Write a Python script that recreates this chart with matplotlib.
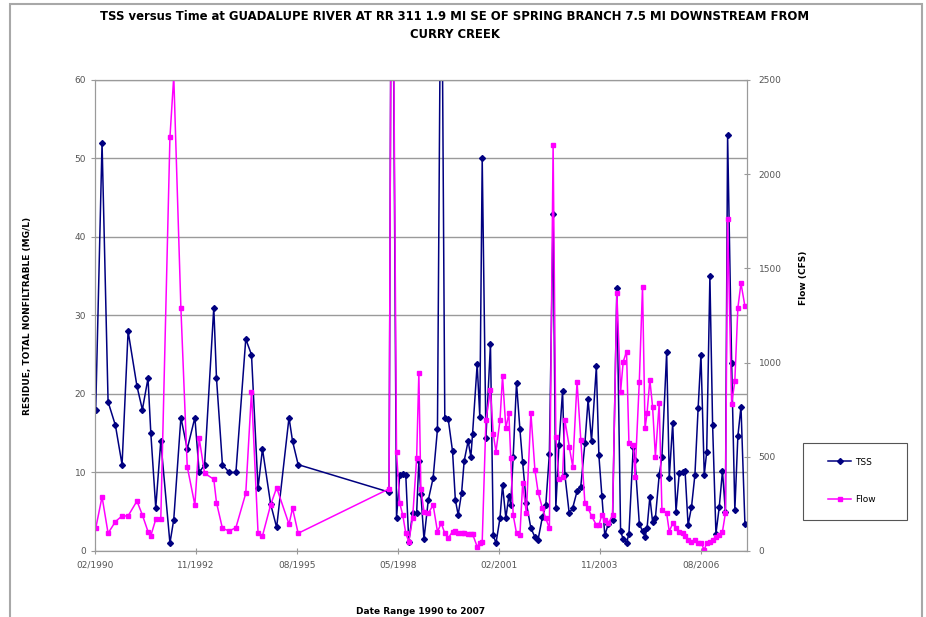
#!/usr/bin/env python3

import matplotlib
matplotlib.use("Agg")

import pandas as pd
import numpy as np

from matplotlib import pyplot as plt
from matplotlib import dates as mdates
from matplotlib.patches import Rectangle


# sampling dates, TSS (mg/L) and flow (cfs)
sample_dates = [
    "1990-02-08", "1990-04-12", "1990-06-11", "1990-08-23", "1990-10-28",
    "1990-12-27", "1991-03-25", "1991-05-18", "1991-07-13", "1991-08-10",
    "1991-09-28", "1991-11-17", "1992-02-16", "1992-03-25", "1992-06-04",
    "1992-08-06", "1992-10-21", "1992-12-03", "1993-01-26", "1993-04-27",
    "1993-05-24", "1993-07-22", "1993-09-27", "1993-12-03", "1994-03-11",
    "1994-05-07", "1994-07-11", "1994-08-24", "1994-11-13", "1995-01-12",
    "1995-05-15", "1995-06-19", "1995-08-14",
    "1998-02-03", "1998-03-02", "1998-04-18", "1998-05-20", "1998-06-19",
    "1998-07-19", "1998-08-18", "1998-09-25", "1998-11-04", "1998-11-26",
    "1998-12-16", "1999-01-16", "1999-02-28", "1999-04-17", "1999-05-30",
    "1999-07-07", "1999-08-11", "1999-09-14", "1999-10-27", "1999-11-24",
    "1999-12-22", "2000-01-25", "2000-02-20", "2000-03-30", "2000-04-26",
    "2000-05-13", "2000-06-28", "2000-07-24", "2000-08-17", "2000-09-23",
    "2000-11-07", "2000-12-05", "2001-01-01", "2001-02-10", "2001-03-07",
    "2001-04-09", "2001-05-09", "2001-05-28", "2001-06-21", "2001-07-24",
    "2001-08-27", "2001-09-23", "2001-10-30", "2001-12-14", "2002-01-23",
    "2002-02-23", "2002-04-07", "2002-05-11", "2002-06-16", "2002-07-23",
    "2002-08-19", "2002-09-19", "2002-10-25", "2002-11-17", "2002-12-30",
    "2003-02-03", "2003-03-18", "2003-04-24", "2003-06-04", "2003-07-06",
    "2003-08-09", "2003-09-26", "2003-10-21", "2003-11-20", "2003-12-19",
    "2004-01-24", "2004-03-05", "2004-04-17", "2004-05-24", "2004-06-19",
    "2004-07-22", "2004-08-15", "2004-09-27", "2004-10-14", "2004-11-26",
    "2004-12-28", "2005-01-22", "2005-02-11", "2005-03-11", "2005-04-07",
    "2005-05-05", "2005-06-12", "2005-07-09", "2005-08-25", "2005-09-20",
    "2005-10-24", "2005-11-26", "2005-12-28", "2006-02-01", "2006-02-24",
    "2006-03-26", "2006-04-29", "2006-06-02", "2006-07-04", "2006-08-01",
    "2006-09-03", "2006-09-27", "2006-10-29", "2006-11-25", "2006-12-28",
    "2007-01-30", "2007-03-03", "2007-04-01", "2007-04-23", "2007-06-02",
    "2007-07-04", "2007-08-03", "2007-09-03", "2007-10-12",
]

tss = [
    18, 52, 19, 16, 11, 28, 21, 18, 22, 15,
    5.5, 14, 1, 4, 17, 13, 17, 10, 11, 31,
    22, 11, 10, 10, 27, 25, 8, 13, 6, 3,
    17, 14, 11,
    7.5, 98, 4.2, 9.7, 9.8, 9.7, 1.2, 4.8, 4.8, 11.4,
    7.3, 1.5, 6.5, 9.3, 15.5, 86, 16.9, 16.8, 12.7, 6.5,
    4.6, 7.4, 11.5, 14, 12, 14.9, 23.8, 17.1, 50, 14.4,
    26.4, 2.0, 1.0, 4.2, 8.4, 4.2, 7.0, 5.9, 12, 21.4,
    15.5, 11.3, 6.1, 2.9, 1.8, 1.4, 4.3, 5.8, 12.4, 42.9,
    5.5, 13.5, 20.4, 9.7, 4.8, 5.5, 7.6, 8.2, 13.7, 19.3,
    14, 23.5, 12.2, 7.0, 2.0, 3.5, 3.9, 33.5, 2.5, 1.5,
    1.0, 2.2, 13.3, 11.6, 3.5, 2.5, 1.8, 2.9, 6.9, 3.7,
    4.2, 9.7, 12, 25.3, 9.3, 16.3, 5.0, 9.9, 10, 10.2,
    3.3, 5.6, 9.7, 18.2, 25, 9.7, 12.6, 35, 16, 2.2,
    5.6, 10.2, 5.0, 53, 24, 5.2, 14.6, 18.4, 3.5,
]

flow = [
    120, 288, 94, 156, 186, 186, 265, 191, 103, 81,
    168, 168, 2195, 2520, 1289, 448, 244, 598, 412, 381,
    257, 120, 106, 124, 306, 846, 97, 80, 244, 336,
    142, 227, 94,
    330, 4100, 525, 253, 191, 94, 49, 174, 492, 944,
    328, 209, 200, 244, 103, 147, 94, 68, 103, 108,
    97, 94, 94, 90, 90, 90, 23, 41, 49, 695,
    855, 620, 527, 695, 929, 651, 731, 492, 191, 94,
    85, 359, 200, 734, 430, 315, 227, 174, 120, 2156,
    607, 380, 395, 695, 554, 448, 899, 589, 253, 227,
    186, 138, 138, 191, 165, 147, 191, 1368, 846, 1005,
    1058, 572, 563, 395, 899, 1403, 651, 731, 908, 766,
    501, 784, 218, 200, 103, 147, 120, 103, 94, 80,
    58, 49, 58, 41, 45, 5, 44, 49, 58, 76,
    85, 103, 200, 1761, 780, 904, 1290, 1421, 1300,
]

tick_dates = pd.date_range("1990-02-01", periods=7, freq="33MS")
title = ("TSS versus Time at GUADALUPE RIVER AT RR 311 1.9 MI SE OF SPRING BRANCH "
         "7.5 MI DOWNSTREAM FROM\nCURRY CREEK")

FONT = "DejaVu Sans"
GRID = "#9a9a9a"
TICKC = "#555555"


def main():
    dates = pd.to_datetime(sample_dates)

    fig = plt.figure(figsize=(9.26, 6.17), dpi=100)
    fig.patch.set_facecolor("white")
    # chart area frame
    fig.patches.append(Rectangle(
        (0.011, -0.05), 0.985, 1.0435, transform=fig.transFigure,
        fill=False, ec="#a8a8a8", lw=1.5
    ))

    ax = fig.add_axes([0.1026, 0.107, 0.704, 0.7634])
    ax2 = ax.twinx()

    h1, = ax.plot(dates, tss, color="#000080", marker="D", ms=3.0,
                  lw=1.1, label="TSS")
    h2, = ax2.plot(dates, flow, color="#ff00ff", marker="s", ms=3.0,
                   lw=1.1, label="Flow")

    ax.set_xlim(pd.Timestamp("1990-02-01"), pd.Timestamp("2007-11-01"))
    ax.set_ylim(0, 60)
    ax2.set_ylim(0, 2500)
    ax.set_yticks(np.arange(0, 61, 10))
    ax2.set_yticks(np.arange(0, 2501, 500))
    ax.set_xticks(tick_dates)
    ax.xaxis.set_major_formatter(mdates.DateFormatter("%m/%Y"))

    ax.set_axisbelow(True)
    ax.grid(axis="y", color=GRID, lw=1.0)
    ax.grid(axis="x", visible=False)

    for a in (ax, ax2):
        for s in a.spines.values():
            s.set_color(GRID)
        a.tick_params(colors=TICKC, labelsize=6.5, length=3, width=0.8)
        a.tick_params(axis="both", color=GRID)
    ax.tick_params(axis="x", direction="inout", length=5, pad=4)
    ax2.tick_params(axis="y", direction="inout", length=5, pad=6)

    ax.set_ylabel("RESIDUE, TOTAL NONFILTRABLE (MG/L)", family=FONT,
                  fontsize=6.5, weight="bold")
    ax.yaxis.set_label_coords(-0.097, 0.5)
    ax2.set_ylabel("Flow (CFS)", family=FONT, fontsize=6.5, weight="bold")
    ax2.yaxis.set_label_coords(1.08, 0.58)
    ax.set_xlabel("Date Range 1990 to 2007", family=FONT, fontsize=6.5,
                  weight="bold")
    ax.xaxis.set_label_coords(0.5, -0.118)

    fig.text(0.491, 0.983, title, ha="center", va="top", family=FONT,
             fontsize=8.4, weight="bold", linespacing=1.45)

    # legend box drawn separately so it matches the original size
    fig.patches.append(Rectangle(
        (803 / 926, 1 - 520 / 617), 104 / 926, 77 / 617,
        transform=fig.transFigure, fill=False, ec="#555555", lw=0.8
    ))
    fig.legend(
        handles=[h1, h2], loc="center left",
        bbox_to_anchor=(828 / 926, 1 - 481 / 617), frameon=False,
        prop={"family": FONT, "size": 6.5}, labelspacing=3.2,
        handlelength=2.6, handletextpad=0.4, borderpad=0, borderaxespad=0
    )

    fig.savefig("out.png", dpi=100)
    plt.close(fig)


if __name__ == "__main__":
    main()
